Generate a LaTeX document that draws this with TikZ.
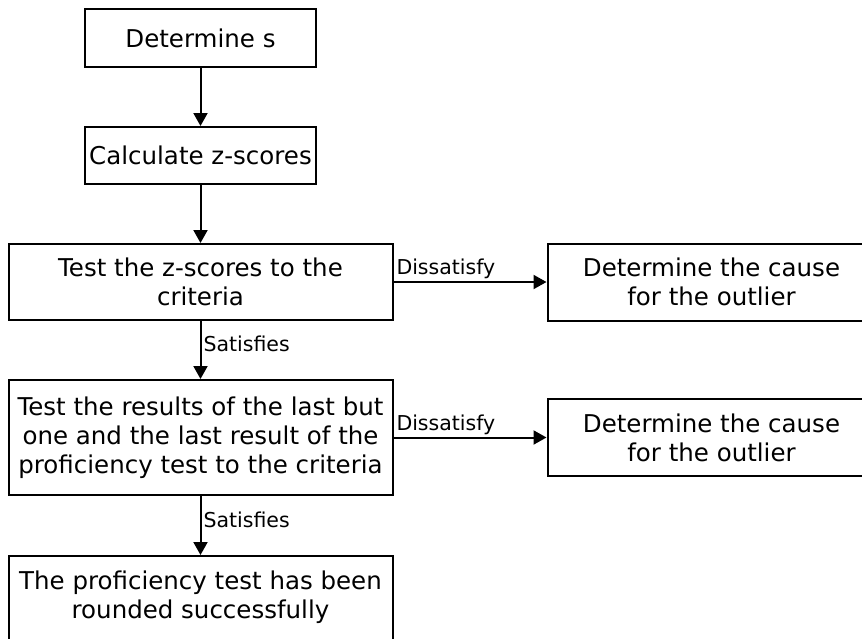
\documentclass[tikz,border=0pt]{standalone}
\usepackage{fontspec}
\setmainfont{DejaVu Sans}
\usetikzlibrary{arrows.meta, positioning}

\begin{document}
\begin{tikzpicture}[node distance=58pt]
        % Define block styles
        \tikzstyle{process} = [rectangle, minimum width=231pt, minimum height=58pt, text centered, align=center, draw=black, line width=2pt, inner sep=2pt, font=\fontsize{24.5}{29}\selectfont]
        \tikzstyle{widebox} = [process, minimum width=384pt]
        \tikzstyle{cause} = [process, minimum width=328pt, minimum height=77pt]
        \tikzstyle{arrow} = [line width=2pt, -{Triangle[length=13pt,width=14pt]}]
        \tikzstyle{lbl} = [font=\fontsize{20.5}{24}\selectfont, inner sep=2pt]

        \clip (0pt,0pt) rectangle (862pt,-638pt);

        % Nodes
        \node (dets) [process] at (200.5pt,-38pt) {Determine s};
        \node (calc) [process, below=of dets, minimum height=57pt] {Calculate z-scores};
        \node (testz) [widebox, below=of calc, minimum height=76pt] {Test the z-scores to the\\criteria};
        \node (causea) [cause, right=153pt of testz] {Determine the cause\\for the outlier};
        \node (testres) [widebox, below=of testz, minimum height=115pt] {Test the results of the last but\\one and the last result of the\\proficiency test to the criteria};
        \node (causeb) [cause, right=153pt of testres] {Determine the cause\\for the outlier};
        \node (done) [widebox, below=59pt of testres, minimum height=106pt] {The proficiency test has been\\rounded successfully\\\mbox{}};

        % Arrows
        \draw [arrow] (dets) -- (calc);
        \draw [arrow] (calc) -- (testz);
        \draw [arrow] (testz) -- node[lbl, pos=0.4, anchor=west] {Satisfies} (testres);
        \draw [arrow] (testres) -- node[lbl, pos=0.4, anchor=west] {Satisfies} (done);

        % The outlier branches
        \draw [arrow] (testz) -- node[lbl, pos=0, anchor=south west] {Dissatisfy} (causea);
        \draw [arrow] (testres) -- node[lbl, pos=0, anchor=south west] {Dissatisfy} (causeb);
\end{tikzpicture}
\end{document}
